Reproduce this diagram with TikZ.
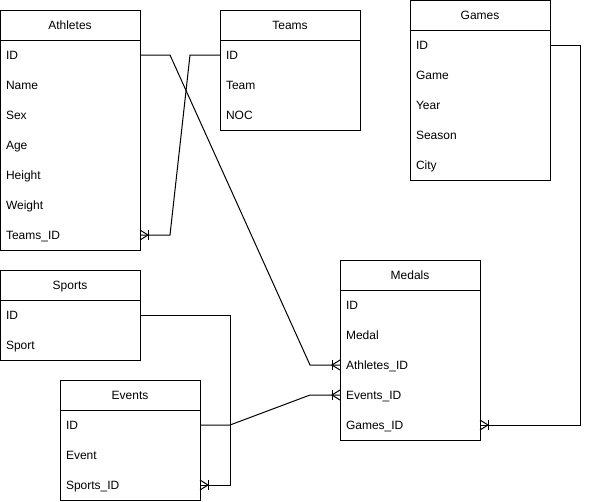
\documentclass[tikz,border=0pt]{standalone}
\usepackage{fontspec}
\setmainfont{Liberation Sans}
\usetikzlibrary{positioning,decorations.markings}
\tikzstyle{head} = [rectangle, draw, minimum width=140pt, minimum height=30pt,
    inner sep=0pt, outer sep=0pt, text height=10pt, text depth=2pt]
\tikzstyle{row} = [rectangle, minimum width=140pt, minimum height=30pt,
    text width=128pt, inner xsep=6pt, inner ysep=0pt, outer sep=0pt,
    text height=10pt, text depth=2pt, align=left]
\tikzstyle{line} = [draw]
\tikzstyle{many} = [draw, postaction={decorate}, decoration={markings,
    mark=at position 1 with {\draw (0,5pt) -- (-8pt,0) -- (0,-5pt);
    \draw (-8pt,5pt) -- (-8pt,-5pt);}}]

\begin{document}
\begin{tikzpicture}[x=1pt, y=1pt, line width=1pt]
\tikzstyle{every node}=[font=\fontsize{12}{14}\selectfont]
    \useasboundingbox[fill=white] (0,0) rectangle (589,-501);
    % Athletes
    \node [head] (athletes) at (70,-25) {Athletes};
    \node [row, below=0pt of athletes] (athletes-id) {ID};
    \node [row, below=0pt of athletes-id] (athletes-name) {Name};
    \node [row, below=0pt of athletes-name] (athletes-sex) {Sex};
    \node [row, below=0pt of athletes-sex] (athletes-age) {Age};
    \node [row, below=0pt of athletes-age] (athletes-height) {Height};
    \node [row, below=0pt of athletes-height] (athletes-weight) {Weight};
    \node [row, below=0pt of athletes-weight] (athletes-teams) {Teams\_ID};
    \draw (athletes-id.north west) rectangle (athletes-teams.south east);
    % Teams
    \node [head] (teams) at (290,-25) {Teams};
    \node [row, below=0pt of teams] (teams-id) {ID};
    \node [row, below=0pt of teams-id] (teams-team) {Team};
    \node [row, below=0pt of teams-team] (teams-noc) {NOC};
    \draw (teams-id.north west) rectangle (teams-noc.south east);
    % Games
    \node [head] (games) at (480,-15) {Games};
    \node [row, below=0pt of games] (games-id) {ID};
    \node [row, below=0pt of games-id] (games-game) {Game};
    \node [row, below=0pt of games-game] (games-year) {Year};
    \node [row, below=0pt of games-year] (games-season) {Season};
    \node [row, below=0pt of games-season] (games-city) {City};
    \draw (games-id.north west) rectangle (games-city.south east);
    % Sports
    \node [head] (sports) at (70,-285) {Sports};
    \node [row, below=0pt of sports] (sports-id) {ID};
    \node [row, below=0pt of sports-id] (sports-sport) {Sport};
    \draw (sports-id.north west) rectangle (sports-sport.south east);
    % Events
    \node [head] (events) at (130,-395) {Events};
    \node [row, below=0pt of events] (events-id) {ID};
    \node [row, below=0pt of events-id] (events-event) {Event};
    \node [row, below=0pt of events-event] (events-sports) {Sports\_ID};
    \draw (events-id.north west) rectangle (events-sports.south east);
    % Medals
    \node [head] (medals) at (410,-275) {Medals};
    \node [row, below=0pt of medals] (medals-id) {ID};
    \node [row, below=0pt of medals-id] (medals-medal) {Medal};
    \node [row, below=0pt of medals-medal] (medals-athletes) {Athletes\_ID};
    \node [row, below=0pt of medals-athletes] (medals-events) {Events\_ID};
    \node [row, below=0pt of medals-events] (medals-games) {Games\_ID};
    \draw (medals-id.north west) rectangle (medals-games.south east);
    % Relations
    \path [many] (athletes-id.east) -- ++(30,0)
        -- ([xshift=-30pt]medals-athletes.west) -- (medals-athletes.west);
    \path [many] (teams-id.west) -- ++(-30,0)
        -- ([xshift=30pt]athletes-teams.east) -- (athletes-teams.east);
    \path [many] (games-id.east) -- ++(30,0) |- (medals-games.east);
    \path [many] (events-id.east) -- ++(30,0)
        -- ([xshift=-30pt]medals-events.west) -- (medals-events.west);
    \path [many] (sports-id.east) -- ++(90,0) |- (events-sports.east);
\end{tikzpicture}
\end{document}
